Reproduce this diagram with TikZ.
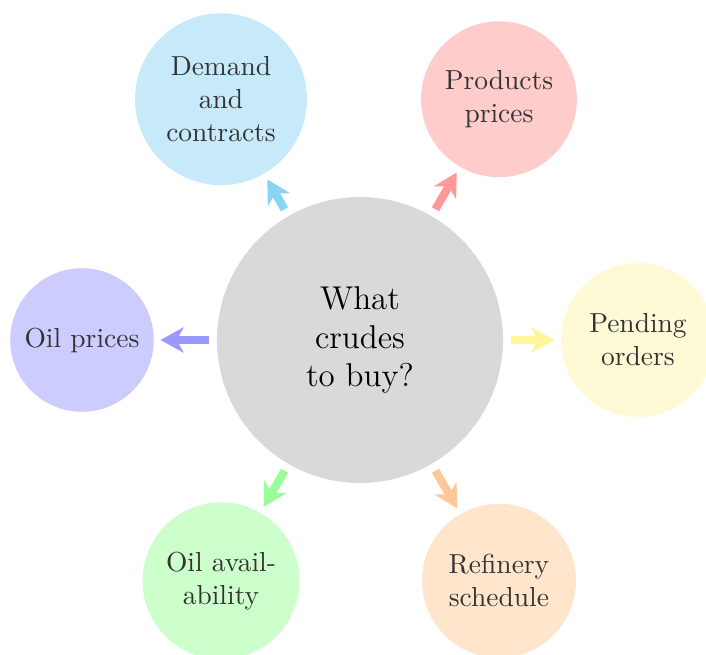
\documentclass[tikz,border=0pt]{standalone}
\usetikzlibrary{arrows.meta}
\definecolor{cfill}{HTML}{D9D9D9}
\definecolor{dfill}{HTML}{C6EAF9}
\definecolor{darr}{HTML}{88D4F2}
\definecolor{pfill}{HTML}{FFCCCC}
\definecolor{parr}{HTML}{FF9999}
\definecolor{yfill}{HTML}{FFFAD6}
\definecolor{yarr}{HTML}{FFF599}
\definecolor{bfill}{HTML}{CCCCFF}
\definecolor{barr}{HTML}{9999FF}
\definecolor{gfill}{HTML}{CCFFCC}
\definecolor{garr}{HTML}{99FF99}
\definecolor{ofill}{HTML}{FFE5CC}
\definecolor{oarr}{HTML}{FFC899}
\definecolor{sattext}{HTML}{333333}
\tikzset{
  hub/.style={circle, fill=cfill, minimum size=104pt, inner sep=0pt, outer sep=0pt, align=center, font=\large, text=black},
  sat/.style={circle, minimum size=#1, inner sep=0pt, outer sep=0pt, align=center, text=sattext},
  conn/.style={line width=3pt, draw=#1, shorten <=2.9pt, shorten >=2.4pt,
    -{Stealth[length=8.4pt,width=9.1pt,inset=2.5pt]}},
}
\begin{document}
\begin{tikzpicture}[x=0.36364pt,y=-0.36364pt]
\useasboundingbox (0,0) rectangle (706,655);
\clip (0,0) rectangle (706,655);
\node[hub] (c) at (360,340) {What\\crudes\\to buy?};
\node[sat=62.5pt, fill=dfill] (d) at (221,99.2) {Demand\\and\\contracts};
\node[sat=56.7pt, fill=pfill] (p) at (499,99.2) {Products\\prices};
\node[sat=56pt, fill=yfill] (po) at (638,340) {Pending\\orders};
\node[sat=52.2pt, fill=bfill] (op) at (82,340) {Oil prices};
\node[sat=57.1pt, fill=gfill] (oa) at (221,580.8) {Oil avail-\\ability};
\node[sat=56pt, fill=ofill] (r) at (499,580.8) {Refinery\\schedule};
\draw[conn=darr] (c) -- (d);
\draw[conn=parr] (c) -- (p);
\draw[conn=yarr] (c) -- (po);
\draw[conn=barr] (c) -- (op);
\draw[conn=garr] (c) -- (oa);
\draw[conn=oarr] (c) -- (r);
\end{tikzpicture}
\end{document}
